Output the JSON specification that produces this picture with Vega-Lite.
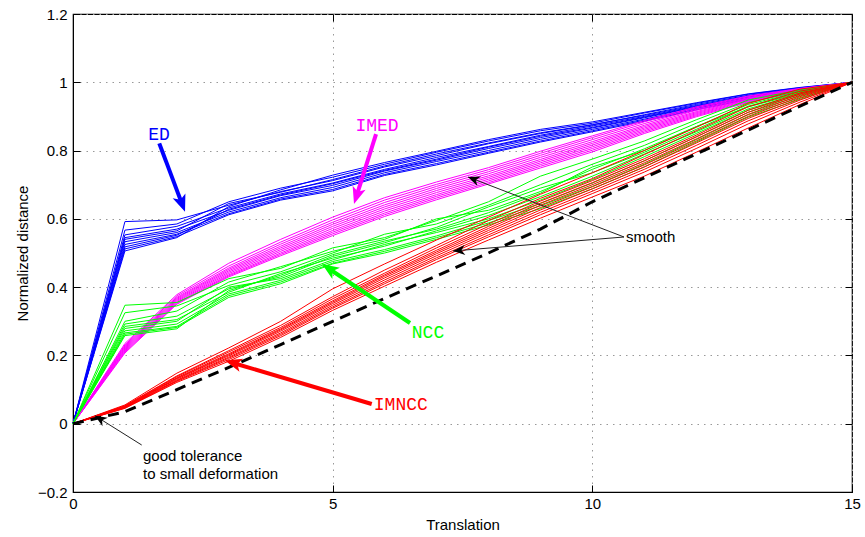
{
"$schema":"https://vega.github.io/schema/vega-lite/v6.json",
"width":779,"height":478,
"autosize":{"type":"none"},
"padding":{"left":73,"top":14,"right":13,"bottom":45},
"background":"white",
"config":{"view":{"stroke":"#000","strokeWidth":1.2},"font":"Liberation Sans"},
"resolve":{"axis":{"x":"independent","y":"independent"}},
"datasets":{
"curves":[
{"g":"ED","r":1,"x":0,"y":0},{"g":"ED","r":1,"x":1,"y":0.592},{"g":"ED","r":1,"x":2,"y":0.597},{"g":"ED","r":1,"x":3,"y":0.640},{"g":"ED","r":1,"x":4,"y":0.680},{"g":"ED","r":1,"x":5,"y":0.712},{"g":"ED","r":1,"x":6,"y":0.752},{"g":"ED","r":1,"x":7,"y":0.785},{"g":"ED","r":1,"x":8,"y":0.820},{"g":"ED","r":1,"x":9,"y":0.850},{"g":"ED","r":1,"x":10,"y":0.875},{"g":"ED","r":1,"x":11,"y":0.905},{"g":"ED","r":1,"x":12,"y":0.935},{"g":"ED","r":1,"x":13,"y":0.962},{"g":"ED","r":1,"x":14,"y":0.982},{"g":"ED","r":1,"x":15,"y":1},
{"g":"ED","r":2,"x":0,"y":0},{"g":"ED","r":2,"x":1,"y":0.567},{"g":"ED","r":2,"x":2,"y":0.585},{"g":"ED","r":2,"x":3,"y":0.650},{"g":"ED","r":2,"x":4,"y":0.690},{"g":"ED","r":2,"x":5,"y":0.722},{"g":"ED","r":2,"x":6,"y":0.760},{"g":"ED","r":2,"x":7,"y":0.795},{"g":"ED","r":2,"x":8,"y":0.828},{"g":"ED","r":2,"x":9,"y":0.858},{"g":"ED","r":2,"x":10,"y":0.880},{"g":"ED","r":2,"x":11,"y":0.910},{"g":"ED","r":2,"x":12,"y":0.938},{"g":"ED","r":2,"x":13,"y":0.965},{"g":"ED","r":2,"x":14,"y":0.984},{"g":"ED","r":2,"x":15,"y":1},
{"g":"ED","r":3,"x":0,"y":0},{"g":"ED","r":3,"x":1,"y":0.553},{"g":"ED","r":3,"x":2,"y":0.578},{"g":"ED","r":3,"x":3,"y":0.632},{"g":"ED","r":3,"x":4,"y":0.673},{"g":"ED","r":3,"x":5,"y":0.705},{"g":"ED","r":3,"x":6,"y":0.745},{"g":"ED","r":3,"x":7,"y":0.780},{"g":"ED","r":3,"x":8,"y":0.812},{"g":"ED","r":3,"x":9,"y":0.845},{"g":"ED","r":3,"x":10,"y":0.872},{"g":"ED","r":3,"x":11,"y":0.900},{"g":"ED","r":3,"x":12,"y":0.930},{"g":"ED","r":3,"x":13,"y":0.958},{"g":"ED","r":3,"x":14,"y":0.980},{"g":"ED","r":3,"x":15,"y":1},
{"g":"ED","r":4,"x":0,"y":0},{"g":"ED","r":4,"x":1,"y":0.545},{"g":"ED","r":4,"x":2,"y":0.570},{"g":"ED","r":4,"x":3,"y":0.625},{"g":"ED","r":4,"x":4,"y":0.668},{"g":"ED","r":4,"x":5,"y":0.698},{"g":"ED","r":4,"x":6,"y":0.740},{"g":"ED","r":4,"x":7,"y":0.772},{"g":"ED","r":4,"x":8,"y":0.806},{"g":"ED","r":4,"x":9,"y":0.838},{"g":"ED","r":4,"x":10,"y":0.866},{"g":"ED","r":4,"x":11,"y":0.896},{"g":"ED","r":4,"x":12,"y":0.927},{"g":"ED","r":4,"x":13,"y":0.956},{"g":"ED","r":4,"x":14,"y":0.979},{"g":"ED","r":4,"x":15,"y":1},
{"g":"ED","r":5,"x":0,"y":0},{"g":"ED","r":5,"x":1,"y":0.540},{"g":"ED","r":5,"x":2,"y":0.565},{"g":"ED","r":5,"x":3,"y":0.645},{"g":"ED","r":5,"x":4,"y":0.678},{"g":"ED","r":5,"x":5,"y":0.715},{"g":"ED","r":5,"x":6,"y":0.755},{"g":"ED","r":5,"x":7,"y":0.790},{"g":"ED","r":5,"x":8,"y":0.822},{"g":"ED","r":5,"x":9,"y":0.852},{"g":"ED","r":5,"x":10,"y":0.876},{"g":"ED","r":5,"x":11,"y":0.903},{"g":"ED","r":5,"x":12,"y":0.932},{"g":"ED","r":5,"x":13,"y":0.960},{"g":"ED","r":5,"x":14,"y":0.981},{"g":"ED","r":5,"x":15,"y":1},
{"g":"ED","r":6,"x":0,"y":0},{"g":"ED","r":6,"x":1,"y":0.533},{"g":"ED","r":6,"x":2,"y":0.560},{"g":"ED","r":6,"x":3,"y":0.620},{"g":"ED","r":6,"x":4,"y":0.662},{"g":"ED","r":6,"x":5,"y":0.692},{"g":"ED","r":6,"x":6,"y":0.735},{"g":"ED","r":6,"x":7,"y":0.768},{"g":"ED","r":6,"x":8,"y":0.800},{"g":"ED","r":6,"x":9,"y":0.833},{"g":"ED","r":6,"x":10,"y":0.862},{"g":"ED","r":6,"x":11,"y":0.892},{"g":"ED","r":6,"x":12,"y":0.924},{"g":"ED","r":6,"x":13,"y":0.953},{"g":"ED","r":6,"x":14,"y":0.977},{"g":"ED","r":6,"x":15,"y":1},
{"g":"ED","r":7,"x":0,"y":0},{"g":"ED","r":7,"x":1,"y":0.525},{"g":"ED","r":7,"x":2,"y":0.555},{"g":"ED","r":7,"x":3,"y":0.615},{"g":"ED","r":7,"x":4,"y":0.658},{"g":"ED","r":7,"x":5,"y":0.686},{"g":"ED","r":7,"x":6,"y":0.730},{"g":"ED","r":7,"x":7,"y":0.762},{"g":"ED","r":7,"x":8,"y":0.795},{"g":"ED","r":7,"x":9,"y":0.828},{"g":"ED","r":7,"x":10,"y":0.858},{"g":"ED","r":7,"x":11,"y":0.889},{"g":"ED","r":7,"x":12,"y":0.921},{"g":"ED","r":7,"x":13,"y":0.951},{"g":"ED","r":7,"x":14,"y":0.976},{"g":"ED","r":7,"x":15,"y":1},
{"g":"ED","r":8,"x":0,"y":0},{"g":"ED","r":8,"x":1,"y":0.518},{"g":"ED","r":8,"x":2,"y":0.552},{"g":"ED","r":8,"x":3,"y":0.628},{"g":"ED","r":8,"x":4,"y":0.670},{"g":"ED","r":8,"x":5,"y":0.703},{"g":"ED","r":8,"x":6,"y":0.742},{"g":"ED","r":8,"x":7,"y":0.775},{"g":"ED","r":8,"x":8,"y":0.810},{"g":"ED","r":8,"x":9,"y":0.842},{"g":"ED","r":8,"x":10,"y":0.868},{"g":"ED","r":8,"x":11,"y":0.898},{"g":"ED","r":8,"x":12,"y":0.928},{"g":"ED","r":8,"x":13,"y":0.957},{"g":"ED","r":8,"x":14,"y":0.980},{"g":"ED","r":8,"x":15,"y":1},
{"g":"ED","r":9,"x":0,"y":0},{"g":"ED","r":9,"x":1,"y":0.512},{"g":"ED","r":9,"x":2,"y":0.548},{"g":"ED","r":9,"x":3,"y":0.612},{"g":"ED","r":9,"x":4,"y":0.655},{"g":"ED","r":9,"x":5,"y":0.682},{"g":"ED","r":9,"x":6,"y":0.727},{"g":"ED","r":9,"x":7,"y":0.758},{"g":"ED","r":9,"x":8,"y":0.792},{"g":"ED","r":9,"x":9,"y":0.825},{"g":"ED","r":9,"x":10,"y":0.855},{"g":"ED","r":9,"x":11,"y":0.886},{"g":"ED","r":9,"x":12,"y":0.919},{"g":"ED","r":9,"x":13,"y":0.950},{"g":"ED","r":9,"x":14,"y":0.975},{"g":"ED","r":9,"x":15,"y":1},
{"g":"ED","r":10,"x":0,"y":0},{"g":"ED","r":10,"x":1,"y":0.506},{"g":"ED","r":10,"x":2,"y":0.545},{"g":"ED","r":10,"x":3,"y":0.636},{"g":"ED","r":10,"x":4,"y":0.685},{"g":"ED","r":10,"x":5,"y":0.728},{"g":"ED","r":10,"x":6,"y":0.765},{"g":"ED","r":10,"x":7,"y":0.798},{"g":"ED","r":10,"x":8,"y":0.832},{"g":"ED","r":10,"x":9,"y":0.862},{"g":"ED","r":10,"x":10,"y":0.884},{"g":"ED","r":10,"x":11,"y":0.912},{"g":"ED","r":10,"x":12,"y":0.940},{"g":"ED","r":10,"x":13,"y":0.966},{"g":"ED","r":10,"x":14,"y":0.985},{"g":"ED","r":10,"x":15,"y":1},
{"g":"IMED","r":1,"x":0,"y":0},{"g":"IMED","r":1,"x":1,"y":0.235},{"g":"IMED","r":1,"x":2,"y":0.378},{"g":"IMED","r":1,"x":3,"y":0.470},{"g":"IMED","r":1,"x":4,"y":0.540},{"g":"IMED","r":1,"x":5,"y":0.605},{"g":"IMED","r":1,"x":6,"y":0.662},{"g":"IMED","r":1,"x":7,"y":0.708},{"g":"IMED","r":1,"x":8,"y":0.750},{"g":"IMED","r":1,"x":9,"y":0.798},{"g":"IMED","r":1,"x":10,"y":0.843},{"g":"IMED","r":1,"x":11,"y":0.888},{"g":"IMED","r":1,"x":12,"y":0.928},{"g":"IMED","r":1,"x":13,"y":0.960},{"g":"IMED","r":1,"x":14,"y":0.982},{"g":"IMED","r":1,"x":15,"y":1},
{"g":"IMED","r":2,"x":0,"y":0},{"g":"IMED","r":2,"x":1,"y":0.231},{"g":"IMED","r":2,"x":2,"y":0.374},{"g":"IMED","r":2,"x":3,"y":0.462},{"g":"IMED","r":2,"x":4,"y":0.532},{"g":"IMED","r":2,"x":5,"y":0.597},{"g":"IMED","r":2,"x":6,"y":0.655},{"g":"IMED","r":2,"x":7,"y":0.701},{"g":"IMED","r":2,"x":8,"y":0.744},{"g":"IMED","r":2,"x":9,"y":0.792},{"g":"IMED","r":2,"x":10,"y":0.838},{"g":"IMED","r":2,"x":11,"y":0.884},{"g":"IMED","r":2,"x":12,"y":0.925},{"g":"IMED","r":2,"x":13,"y":0.958},{"g":"IMED","r":2,"x":14,"y":0.981},{"g":"IMED","r":2,"x":15,"y":1},
{"g":"IMED","r":3,"x":0,"y":0},{"g":"IMED","r":3,"x":1,"y":0.228},{"g":"IMED","r":3,"x":2,"y":0.370},{"g":"IMED","r":3,"x":3,"y":0.456},{"g":"IMED","r":3,"x":4,"y":0.526},{"g":"IMED","r":3,"x":5,"y":0.590},{"g":"IMED","r":3,"x":6,"y":0.648},{"g":"IMED","r":3,"x":7,"y":0.695},{"g":"IMED","r":3,"x":8,"y":0.738},{"g":"IMED","r":3,"x":9,"y":0.786},{"g":"IMED","r":3,"x":10,"y":0.832},{"g":"IMED","r":3,"x":11,"y":0.879},{"g":"IMED","r":3,"x":12,"y":0.921},{"g":"IMED","r":3,"x":13,"y":0.955},{"g":"IMED","r":3,"x":14,"y":0.980},{"g":"IMED","r":3,"x":15,"y":1},
{"g":"IMED","r":4,"x":0,"y":0},{"g":"IMED","r":4,"x":1,"y":0.225},{"g":"IMED","r":4,"x":2,"y":0.367},{"g":"IMED","r":4,"x":3,"y":0.452},{"g":"IMED","r":4,"x":4,"y":0.520},{"g":"IMED","r":4,"x":5,"y":0.584},{"g":"IMED","r":4,"x":6,"y":0.641},{"g":"IMED","r":4,"x":7,"y":0.689},{"g":"IMED","r":4,"x":8,"y":0.732},{"g":"IMED","r":4,"x":9,"y":0.780},{"g":"IMED","r":4,"x":10,"y":0.826},{"g":"IMED","r":4,"x":11,"y":0.874},{"g":"IMED","r":4,"x":12,"y":0.918},{"g":"IMED","r":4,"x":13,"y":0.953},{"g":"IMED","r":4,"x":14,"y":0.979},{"g":"IMED","r":4,"x":15,"y":1},
{"g":"IMED","r":5,"x":0,"y":0},{"g":"IMED","r":5,"x":1,"y":0.222},{"g":"IMED","r":5,"x":2,"y":0.364},{"g":"IMED","r":5,"x":3,"y":0.448},{"g":"IMED","r":5,"x":4,"y":0.515},{"g":"IMED","r":5,"x":5,"y":0.578},{"g":"IMED","r":5,"x":6,"y":0.635},{"g":"IMED","r":5,"x":7,"y":0.683},{"g":"IMED","r":5,"x":8,"y":0.726},{"g":"IMED","r":5,"x":9,"y":0.774},{"g":"IMED","r":5,"x":10,"y":0.821},{"g":"IMED","r":5,"x":11,"y":0.870},{"g":"IMED","r":5,"x":12,"y":0.914},{"g":"IMED","r":5,"x":13,"y":0.951},{"g":"IMED","r":5,"x":14,"y":0.978},{"g":"IMED","r":5,"x":15,"y":1},
{"g":"IMED","r":6,"x":0,"y":0},{"g":"IMED","r":6,"x":1,"y":0.219},{"g":"IMED","r":6,"x":2,"y":0.361},{"g":"IMED","r":6,"x":3,"y":0.444},{"g":"IMED","r":6,"x":4,"y":0.510},{"g":"IMED","r":6,"x":5,"y":0.572},{"g":"IMED","r":6,"x":6,"y":0.629},{"g":"IMED","r":6,"x":7,"y":0.677},{"g":"IMED","r":6,"x":8,"y":0.721},{"g":"IMED","r":6,"x":9,"y":0.769},{"g":"IMED","r":6,"x":10,"y":0.816},{"g":"IMED","r":6,"x":11,"y":0.866},{"g":"IMED","r":6,"x":12,"y":0.911},{"g":"IMED","r":6,"x":13,"y":0.949},{"g":"IMED","r":6,"x":14,"y":0.977},{"g":"IMED","r":6,"x":15,"y":1},
{"g":"IMED","r":7,"x":0,"y":0},{"g":"IMED","r":7,"x":1,"y":0.216},{"g":"IMED","r":7,"x":2,"y":0.358},{"g":"IMED","r":7,"x":3,"y":0.440},{"g":"IMED","r":7,"x":4,"y":0.505},{"g":"IMED","r":7,"x":5,"y":0.566},{"g":"IMED","r":7,"x":6,"y":0.623},{"g":"IMED","r":7,"x":7,"y":0.671},{"g":"IMED","r":7,"x":8,"y":0.716},{"g":"IMED","r":7,"x":9,"y":0.764},{"g":"IMED","r":7,"x":10,"y":0.811},{"g":"IMED","r":7,"x":11,"y":0.862},{"g":"IMED","r":7,"x":12,"y":0.908},{"g":"IMED","r":7,"x":13,"y":0.947},{"g":"IMED","r":7,"x":14,"y":0.976},{"g":"IMED","r":7,"x":15,"y":1},
{"g":"IMED","r":8,"x":0,"y":0},{"g":"IMED","r":8,"x":1,"y":0.213},{"g":"IMED","r":8,"x":2,"y":0.355},{"g":"IMED","r":8,"x":3,"y":0.436},{"g":"IMED","r":8,"x":4,"y":0.500},{"g":"IMED","r":8,"x":5,"y":0.561},{"g":"IMED","r":8,"x":6,"y":0.617},{"g":"IMED","r":8,"x":7,"y":0.666},{"g":"IMED","r":8,"x":8,"y":0.711},{"g":"IMED","r":8,"x":9,"y":0.759},{"g":"IMED","r":8,"x":10,"y":0.806},{"g":"IMED","r":8,"x":11,"y":0.858},{"g":"IMED","r":8,"x":12,"y":0.905},{"g":"IMED","r":8,"x":13,"y":0.945},{"g":"IMED","r":8,"x":14,"y":0.975},{"g":"IMED","r":8,"x":15,"y":1},
{"g":"IMED","r":9,"x":0,"y":0},{"g":"IMED","r":9,"x":1,"y":0.210},{"g":"IMED","r":9,"x":2,"y":0.352},{"g":"IMED","r":9,"x":3,"y":0.433},{"g":"IMED","r":9,"x":4,"y":0.496},{"g":"IMED","r":9,"x":5,"y":0.556},{"g":"IMED","r":9,"x":6,"y":0.612},{"g":"IMED","r":9,"x":7,"y":0.661},{"g":"IMED","r":9,"x":8,"y":0.706},{"g":"IMED","r":9,"x":9,"y":0.754},{"g":"IMED","r":9,"x":10,"y":0.801},{"g":"IMED","r":9,"x":11,"y":0.854},{"g":"IMED","r":9,"x":12,"y":0.902},{"g":"IMED","r":9,"x":13,"y":0.943},{"g":"IMED","r":9,"x":14,"y":0.974},{"g":"IMED","r":9,"x":15,"y":1},
{"g":"IMED","r":10,"x":0,"y":0},{"g":"IMED","r":10,"x":1,"y":0.207},{"g":"IMED","r":10,"x":2,"y":0.350},{"g":"IMED","r":10,"x":3,"y":0.430},{"g":"IMED","r":10,"x":4,"y":0.492},{"g":"IMED","r":10,"x":5,"y":0.551},{"g":"IMED","r":10,"x":6,"y":0.607},{"g":"IMED","r":10,"x":7,"y":0.656},{"g":"IMED","r":10,"x":8,"y":0.702},{"g":"IMED","r":10,"x":9,"y":0.749},{"g":"IMED","r":10,"x":10,"y":0.796},{"g":"IMED","r":10,"x":11,"y":0.850},{"g":"IMED","r":10,"x":12,"y":0.899},{"g":"IMED","r":10,"x":13,"y":0.941},{"g":"IMED","r":10,"x":14,"y":0.973},{"g":"IMED","r":10,"x":15,"y":1},
{"g":"NCC","r":1,"x":0,"y":0},{"g":"NCC","r":1,"x":1,"y":0.347},{"g":"NCC","r":1,"x":2,"y":0.355},{"g":"NCC","r":1,"x":3,"y":0.425},{"g":"NCC","r":1,"x":4,"y":0.455},{"g":"NCC","r":1,"x":5,"y":0.515},{"g":"NCC","r":1,"x":6,"y":0.545},{"g":"NCC","r":1,"x":7,"y":0.595},{"g":"NCC","r":1,"x":8,"y":0.650},{"g":"NCC","r":1,"x":9,"y":0.725},{"g":"NCC","r":1,"x":10,"y":0.775},{"g":"NCC","r":1,"x":11,"y":0.828},{"g":"NCC","r":1,"x":12,"y":0.890},{"g":"NCC","r":1,"x":13,"y":0.948},{"g":"NCC","r":1,"x":14,"y":0.978},{"g":"NCC","r":1,"x":15,"y":1},
{"g":"NCC","r":2,"x":0,"y":0},{"g":"NCC","r":2,"x":1,"y":0.325},{"g":"NCC","r":2,"x":2,"y":0.345},{"g":"NCC","r":2,"x":3,"y":0.405},{"g":"NCC","r":2,"x":4,"y":0.445},{"g":"NCC","r":2,"x":5,"y":0.500},{"g":"NCC","r":2,"x":6,"y":0.555},{"g":"NCC","r":2,"x":7,"y":0.585},{"g":"NCC","r":2,"x":8,"y":0.640},{"g":"NCC","r":2,"x":9,"y":0.700},{"g":"NCC","r":2,"x":10,"y":0.760},{"g":"NCC","r":2,"x":11,"y":0.815},{"g":"NCC","r":2,"x":12,"y":0.880},{"g":"NCC","r":2,"x":13,"y":0.940},{"g":"NCC","r":2,"x":14,"y":0.975},{"g":"NCC","r":2,"x":15,"y":1},
{"g":"NCC","r":3,"x":0,"y":0},{"g":"NCC","r":3,"x":1,"y":0.300},{"g":"NCC","r":3,"x":2,"y":0.330},{"g":"NCC","r":3,"x":3,"y":0.415},{"g":"NCC","r":3,"x":4,"y":0.460},{"g":"NCC","r":3,"x":5,"y":0.505},{"g":"NCC","r":3,"x":6,"y":0.540},{"g":"NCC","r":3,"x":7,"y":0.600},{"g":"NCC","r":3,"x":8,"y":0.625},{"g":"NCC","r":3,"x":9,"y":0.680},{"g":"NCC","r":3,"x":10,"y":0.745},{"g":"NCC","r":3,"x":11,"y":0.805},{"g":"NCC","r":3,"x":12,"y":0.870},{"g":"NCC","r":3,"x":13,"y":0.935},{"g":"NCC","r":3,"x":14,"y":0.972},{"g":"NCC","r":3,"x":15,"y":1},
{"g":"NCC","r":4,"x":0,"y":0},{"g":"NCC","r":4,"x":1,"y":0.292},{"g":"NCC","r":4,"x":2,"y":0.315},{"g":"NCC","r":4,"x":3,"y":0.395},{"g":"NCC","r":4,"x":4,"y":0.430},{"g":"NCC","r":4,"x":5,"y":0.490},{"g":"NCC","r":4,"x":6,"y":0.530},{"g":"NCC","r":4,"x":7,"y":0.575},{"g":"NCC","r":4,"x":8,"y":0.635},{"g":"NCC","r":4,"x":9,"y":0.690},{"g":"NCC","r":4,"x":10,"y":0.735},{"g":"NCC","r":4,"x":11,"y":0.795},{"g":"NCC","r":4,"x":12,"y":0.862},{"g":"NCC","r":4,"x":13,"y":0.930},{"g":"NCC","r":4,"x":14,"y":0.970},{"g":"NCC","r":4,"x":15,"y":1},
{"g":"NCC","r":5,"x":0,"y":0},{"g":"NCC","r":5,"x":1,"y":0.285},{"g":"NCC","r":5,"x":2,"y":0.305},{"g":"NCC","r":5,"x":3,"y":0.385},{"g":"NCC","r":5,"x":4,"y":0.440},{"g":"NCC","r":5,"x":5,"y":0.485},{"g":"NCC","r":5,"x":6,"y":0.520},{"g":"NCC","r":5,"x":7,"y":0.565},{"g":"NCC","r":5,"x":8,"y":0.610},{"g":"NCC","r":5,"x":9,"y":0.665},{"g":"NCC","r":5,"x":10,"y":0.725},{"g":"NCC","r":5,"x":11,"y":0.790},{"g":"NCC","r":5,"x":12,"y":0.855},{"g":"NCC","r":5,"x":13,"y":0.922},{"g":"NCC","r":5,"x":14,"y":0.966},{"g":"NCC","r":5,"x":15,"y":1},
{"g":"NCC","r":6,"x":0,"y":0},{"g":"NCC","r":6,"x":1,"y":0.279},{"g":"NCC","r":6,"x":2,"y":0.300},{"g":"NCC","r":6,"x":3,"y":0.400},{"g":"NCC","r":6,"x":4,"y":0.425},{"g":"NCC","r":6,"x":5,"y":0.480},{"g":"NCC","r":6,"x":6,"y":0.525},{"g":"NCC","r":6,"x":7,"y":0.560},{"g":"NCC","r":6,"x":8,"y":0.600},{"g":"NCC","r":6,"x":9,"y":0.655},{"g":"NCC","r":6,"x":10,"y":0.715},{"g":"NCC","r":6,"x":11,"y":0.782},{"g":"NCC","r":6,"x":12,"y":0.850},{"g":"NCC","r":6,"x":13,"y":0.918},{"g":"NCC","r":6,"x":14,"y":0.964},{"g":"NCC","r":6,"x":15,"y":1},
{"g":"NCC","r":7,"x":0,"y":0},{"g":"NCC","r":7,"x":1,"y":0.272},{"g":"NCC","r":7,"x":2,"y":0.292},{"g":"NCC","r":7,"x":3,"y":0.380},{"g":"NCC","r":7,"x":4,"y":0.420},{"g":"NCC","r":7,"x":5,"y":0.475},{"g":"NCC","r":7,"x":6,"y":0.510},{"g":"NCC","r":7,"x":7,"y":0.550},{"g":"NCC","r":7,"x":8,"y":0.595},{"g":"NCC","r":7,"x":9,"y":0.645},{"g":"NCC","r":7,"x":10,"y":0.705},{"g":"NCC","r":7,"x":11,"y":0.770},{"g":"NCC","r":7,"x":12,"y":0.840},{"g":"NCC","r":7,"x":13,"y":0.912},{"g":"NCC","r":7,"x":14,"y":0.960},{"g":"NCC","r":7,"x":15,"y":1},
{"g":"NCC","r":8,"x":0,"y":0},{"g":"NCC","r":8,"x":1,"y":0.266},{"g":"NCC","r":8,"x":2,"y":0.285},{"g":"NCC","r":8,"x":3,"y":0.375},{"g":"NCC","r":8,"x":4,"y":0.415},{"g":"NCC","r":8,"x":5,"y":0.470},{"g":"NCC","r":8,"x":6,"y":0.505},{"g":"NCC","r":8,"x":7,"y":0.545},{"g":"NCC","r":8,"x":8,"y":0.588},{"g":"NCC","r":8,"x":9,"y":0.638},{"g":"NCC","r":8,"x":10,"y":0.695},{"g":"NCC","r":8,"x":11,"y":0.760},{"g":"NCC","r":8,"x":12,"y":0.832},{"g":"NCC","r":8,"x":13,"y":0.905},{"g":"NCC","r":8,"x":14,"y":0.955},{"g":"NCC","r":8,"x":15,"y":1},
{"g":"NCC","r":9,"x":0,"y":0},{"g":"NCC","r":9,"x":1,"y":0.262},{"g":"NCC","r":9,"x":2,"y":0.282},{"g":"NCC","r":9,"x":3,"y":0.370},{"g":"NCC","r":9,"x":4,"y":0.410},{"g":"NCC","r":9,"x":5,"y":0.468},{"g":"NCC","r":9,"x":6,"y":0.500},{"g":"NCC","r":9,"x":7,"y":0.540},{"g":"NCC","r":9,"x":8,"y":0.582},{"g":"NCC","r":9,"x":9,"y":0.630},{"g":"NCC","r":9,"x":10,"y":0.688},{"g":"NCC","r":9,"x":11,"y":0.752},{"g":"NCC","r":9,"x":12,"y":0.825},{"g":"NCC","r":9,"x":13,"y":0.898},{"g":"NCC","r":9,"x":14,"y":0.950},{"g":"NCC","r":9,"x":15,"y":1},
{"g":"NCC","r":10,"x":0,"y":0},{"g":"NCC","r":10,"x":1,"y":0.258},{"g":"NCC","r":10,"x":2,"y":0.278},{"g":"NCC","r":10,"x":3,"y":0.390},{"g":"NCC","r":10,"x":4,"y":0.435},{"g":"NCC","r":10,"x":5,"y":0.495},{"g":"NCC","r":10,"x":6,"y":0.535},{"g":"NCC","r":10,"x":7,"y":0.570},{"g":"NCC","r":10,"x":8,"y":0.618},{"g":"NCC","r":10,"x":9,"y":0.675},{"g":"NCC","r":10,"x":10,"y":0.752},{"g":"NCC","r":10,"x":11,"y":0.800},{"g":"NCC","r":10,"x":12,"y":0.870},{"g":"NCC","r":10,"x":13,"y":0.928},{"g":"NCC","r":10,"x":14,"y":0.968},{"g":"NCC","r":10,"x":15,"y":1},
{"g":"IMNCC","r":1,"x":0,"y":0},{"g":"IMNCC","r":1,"x":1,"y":0.055},{"g":"IMNCC","r":1,"x":2,"y":0.148},{"g":"IMNCC","r":1,"x":3,"y":0.222},{"g":"IMNCC","r":1,"x":4,"y":0.300},{"g":"IMNCC","r":1,"x":5,"y":0.395},{"g":"IMNCC","r":1,"x":6,"y":0.468},{"g":"IMNCC","r":1,"x":7,"y":0.538},{"g":"IMNCC","r":1,"x":8,"y":0.605},{"g":"IMNCC","r":1,"x":9,"y":0.672},{"g":"IMNCC","r":1,"x":10,"y":0.735},{"g":"IMNCC","r":1,"x":11,"y":0.800},{"g":"IMNCC","r":1,"x":12,"y":0.868},{"g":"IMNCC","r":1,"x":13,"y":0.938},{"g":"IMNCC","r":1,"x":14,"y":0.980},{"g":"IMNCC","r":1,"x":15,"y":1},
{"g":"IMNCC","r":2,"x":0,"y":0},{"g":"IMNCC","r":2,"x":1,"y":0.053},{"g":"IMNCC","r":2,"x":2,"y":0.140},{"g":"IMNCC","r":2,"x":3,"y":0.214},{"g":"IMNCC","r":2,"x":4,"y":0.288},{"g":"IMNCC","r":2,"x":5,"y":0.372},{"g":"IMNCC","r":2,"x":6,"y":0.450},{"g":"IMNCC","r":2,"x":7,"y":0.522},{"g":"IMNCC","r":2,"x":8,"y":0.595},{"g":"IMNCC","r":2,"x":9,"y":0.660},{"g":"IMNCC","r":2,"x":10,"y":0.718},{"g":"IMNCC","r":2,"x":11,"y":0.788},{"g":"IMNCC","r":2,"x":12,"y":0.858},{"g":"IMNCC","r":2,"x":13,"y":0.928},{"g":"IMNCC","r":2,"x":14,"y":0.974},{"g":"IMNCC","r":2,"x":15,"y":1},
{"g":"IMNCC","r":3,"x":0,"y":0},{"g":"IMNCC","r":3,"x":1,"y":0.052},{"g":"IMNCC","r":3,"x":2,"y":0.138},{"g":"IMNCC","r":3,"x":3,"y":0.210},{"g":"IMNCC","r":3,"x":4,"y":0.282},{"g":"IMNCC","r":3,"x":5,"y":0.366},{"g":"IMNCC","r":3,"x":6,"y":0.441},{"g":"IMNCC","r":3,"x":7,"y":0.515},{"g":"IMNCC","r":3,"x":8,"y":0.585},{"g":"IMNCC","r":3,"x":9,"y":0.652},{"g":"IMNCC","r":3,"x":10,"y":0.712},{"g":"IMNCC","r":3,"x":11,"y":0.776},{"g":"IMNCC","r":3,"x":12,"y":0.845},{"g":"IMNCC","r":3,"x":13,"y":0.918},{"g":"IMNCC","r":3,"x":14,"y":0.969},{"g":"IMNCC","r":3,"x":15,"y":1},
{"g":"IMNCC","r":4,"x":0,"y":0},{"g":"IMNCC","r":4,"x":1,"y":0.051},{"g":"IMNCC","r":4,"x":2,"y":0.135},{"g":"IMNCC","r":4,"x":3,"y":0.205},{"g":"IMNCC","r":4,"x":4,"y":0.278},{"g":"IMNCC","r":4,"x":5,"y":0.360},{"g":"IMNCC","r":4,"x":6,"y":0.436},{"g":"IMNCC","r":4,"x":7,"y":0.508},{"g":"IMNCC","r":4,"x":8,"y":0.578},{"g":"IMNCC","r":4,"x":9,"y":0.646},{"g":"IMNCC","r":4,"x":10,"y":0.706},{"g":"IMNCC","r":4,"x":11,"y":0.770},{"g":"IMNCC","r":4,"x":12,"y":0.840},{"g":"IMNCC","r":4,"x":13,"y":0.912},{"g":"IMNCC","r":4,"x":14,"y":0.966},{"g":"IMNCC","r":4,"x":15,"y":1},
{"g":"IMNCC","r":5,"x":0,"y":0},{"g":"IMNCC","r":5,"x":1,"y":0.050},{"g":"IMNCC","r":5,"x":2,"y":0.133},{"g":"IMNCC","r":5,"x":3,"y":0.202},{"g":"IMNCC","r":5,"x":4,"y":0.275},{"g":"IMNCC","r":5,"x":5,"y":0.356},{"g":"IMNCC","r":5,"x":6,"y":0.432},{"g":"IMNCC","r":5,"x":7,"y":0.503},{"g":"IMNCC","r":5,"x":8,"y":0.572},{"g":"IMNCC","r":5,"x":9,"y":0.640},{"g":"IMNCC","r":5,"x":10,"y":0.700},{"g":"IMNCC","r":5,"x":11,"y":0.764},{"g":"IMNCC","r":5,"x":12,"y":0.834},{"g":"IMNCC","r":5,"x":13,"y":0.906},{"g":"IMNCC","r":5,"x":14,"y":0.962},{"g":"IMNCC","r":5,"x":15,"y":1},
{"g":"IMNCC","r":6,"x":0,"y":0},{"g":"IMNCC","r":6,"x":1,"y":0.049},{"g":"IMNCC","r":6,"x":2,"y":0.131},{"g":"IMNCC","r":6,"x":3,"y":0.199},{"g":"IMNCC","r":6,"x":4,"y":0.271},{"g":"IMNCC","r":6,"x":5,"y":0.352},{"g":"IMNCC","r":6,"x":6,"y":0.427},{"g":"IMNCC","r":6,"x":7,"y":0.498},{"g":"IMNCC","r":6,"x":8,"y":0.566},{"g":"IMNCC","r":6,"x":9,"y":0.633},{"g":"IMNCC","r":6,"x":10,"y":0.694},{"g":"IMNCC","r":6,"x":11,"y":0.758},{"g":"IMNCC","r":6,"x":12,"y":0.828},{"g":"IMNCC","r":6,"x":13,"y":0.900},{"g":"IMNCC","r":6,"x":14,"y":0.958},{"g":"IMNCC","r":6,"x":15,"y":1},
{"g":"IMNCC","r":7,"x":0,"y":0},{"g":"IMNCC","r":7,"x":1,"y":0.048},{"g":"IMNCC","r":7,"x":2,"y":0.128},{"g":"IMNCC","r":7,"x":3,"y":0.195},{"g":"IMNCC","r":7,"x":4,"y":0.266},{"g":"IMNCC","r":7,"x":5,"y":0.347},{"g":"IMNCC","r":7,"x":6,"y":0.421},{"g":"IMNCC","r":7,"x":7,"y":0.492},{"g":"IMNCC","r":7,"x":8,"y":0.560},{"g":"IMNCC","r":7,"x":9,"y":0.626},{"g":"IMNCC","r":7,"x":10,"y":0.688},{"g":"IMNCC","r":7,"x":11,"y":0.752},{"g":"IMNCC","r":7,"x":12,"y":0.822},{"g":"IMNCC","r":7,"x":13,"y":0.894},{"g":"IMNCC","r":7,"x":14,"y":0.953},{"g":"IMNCC","r":7,"x":15,"y":1},
{"g":"IMNCC","r":8,"x":0,"y":0},{"g":"IMNCC","r":8,"x":1,"y":0.047},{"g":"IMNCC","r":8,"x":2,"y":0.126},{"g":"IMNCC","r":8,"x":3,"y":0.192},{"g":"IMNCC","r":8,"x":4,"y":0.262},{"g":"IMNCC","r":8,"x":5,"y":0.342},{"g":"IMNCC","r":8,"x":6,"y":0.415},{"g":"IMNCC","r":8,"x":7,"y":0.486},{"g":"IMNCC","r":8,"x":8,"y":0.553},{"g":"IMNCC","r":8,"x":9,"y":0.619},{"g":"IMNCC","r":8,"x":10,"y":0.681},{"g":"IMNCC","r":8,"x":11,"y":0.745},{"g":"IMNCC","r":8,"x":12,"y":0.815},{"g":"IMNCC","r":8,"x":13,"y":0.887},{"g":"IMNCC","r":8,"x":14,"y":0.948},{"g":"IMNCC","r":8,"x":15,"y":1},
{"g":"IMNCC","r":9,"x":0,"y":0},{"g":"IMNCC","r":9,"x":1,"y":0.046},{"g":"IMNCC","r":9,"x":2,"y":0.124},{"g":"IMNCC","r":9,"x":3,"y":0.188},{"g":"IMNCC","r":9,"x":4,"y":0.258},{"g":"IMNCC","r":9,"x":5,"y":0.338},{"g":"IMNCC","r":9,"x":6,"y":0.410},{"g":"IMNCC","r":9,"x":7,"y":0.481},{"g":"IMNCC","r":9,"x":8,"y":0.547},{"g":"IMNCC","r":9,"x":9,"y":0.612},{"g":"IMNCC","r":9,"x":10,"y":0.674},{"g":"IMNCC","r":9,"x":11,"y":0.737},{"g":"IMNCC","r":9,"x":12,"y":0.806},{"g":"IMNCC","r":9,"x":13,"y":0.878},{"g":"IMNCC","r":9,"x":14,"y":0.942},{"g":"IMNCC","r":9,"x":15,"y":1},
{"g":"IMNCC","r":10,"x":0,"y":0},{"g":"IMNCC","r":10,"x":1,"y":0.045},{"g":"IMNCC","r":10,"x":2,"y":0.121},{"g":"IMNCC","r":10,"x":3,"y":0.183},{"g":"IMNCC","r":10,"x":4,"y":0.253},{"g":"IMNCC","r":10,"x":5,"y":0.332},{"g":"IMNCC","r":10,"x":6,"y":0.403},{"g":"IMNCC","r":10,"x":7,"y":0.473},{"g":"IMNCC","r":10,"x":8,"y":0.538},{"g":"IMNCC","r":10,"x":9,"y":0.602},{"g":"IMNCC","r":10,"x":10,"y":0.664},{"g":"IMNCC","r":10,"x":11,"y":0.725},{"g":"IMNCC","r":10,"x":12,"y":0.795},{"g":"IMNCC","r":10,"x":13,"y":0.866},{"g":"IMNCC","r":10,"x":14,"y":0.935},{"g":"IMNCC","r":10,"x":15,"y":1}
],
"base":[
{"x":0,"y":0},{"x":1,"y":0.035},{"x":2,"y":0.100},{"x":3,"y":0.165},{"x":4,"y":0.232},{"x":5,"y":0.300},{"x":6,"y":0.367},{"x":7,"y":0.433},{"x":8,"y":0.500},{"x":9,"y":0.570},{"x":10,"y":0.650},{"x":11,"y":0.720},{"x":12,"y":0.790},{"x":13,"y":0.860},{"x":14,"y":0.930},{"x":15,"y":1}
],
"pointers":[
{"g":"ED","x":1.661,"y":0.821,"x2":2.074,"y2":0.654},
{"g":"IMED","x":5.835,"y":0.848,"x2":5.480,"y2":0.677},
{"g":"NCC","x":6.489,"y":0.295,"x2":4.987,"y2":0.448},
{"g":"IMNCC","x":5.752,"y":0.0577,"x2":3.150,"y2":0.175}
],
"callouts":[
{"g":"note","x":10.610,"y":0.5469,"x2":7.606,"y2":0.7226},
{"g":"note","x":10.610,"y":0.5469,"x2":7.317,"y2":0.5059},
{"g":"note","x":1.323,"y":-0.0624,"x2":0.4236,"y2":0.0234}
],
"tips":[
{"a":"ED","g":"ED","x":2.157,"y":0.621},
{"a":"IMED","g":"IMED","x":5.411,"y":0.6435},
{"a":"NCC","g":"NCC","x":4.795,"y":0.468},
{"a":"IMNCC","g":"IMNCC","x":2.927,"y":0.185},
{"a":"smooth1","g":"note","x":7.606,"y":0.7226},
{"a":"smooth2","g":"note","x":7.317,"y":0.5059},
{"a":"tol","g":"note","x":0.4236,"y":0.0234}
],
"names":[
{"t":"ED","g":"ED","x":1.656,"y":0.845},
{"t":"IMED","g":"IMED","x":5.854,"y":0.8717},
{"t":"NCC","g":"NCC","x":6.836,"y":0.2657},
{"t":"IMNCC","g":"IMNCC","x":6.312,"y":0.0548}
],
"notes":[
{"t":"smooth","x":10.649,"y":0.5483},
{"t":"good tolerance","x":1.348,"y":-0.0931},
{"t":"to small deformation","x":1.348,"y":-0.1459}
]
},
"encoding":{
"x":{"field":"x","type":"quantitative","scale":{"domain":[0,15],"nice":false,"zero":false},"axis":null},
"y":{"field":"y","type":"quantitative","scale":{"domain":[-0.2,1.2],"nice":false,"zero":false},"axis":null}
},
"layer":[
{"data":{"name":"curves"},"mark":{"type":"line","strokeWidth":1},
 "encoding":{
 "x":{"field":"x","type":"quantitative","scale":{"domain":[0,15],"nice":false,"zero":false},
  "axis":{"values":[0,5,10,15],"title":"Translation","grid":true,"gridDash":[1.5,5],"gridColor":"#999","gridWidth":1,"tickSize":-7,"tickColor":"#000","domainColor":"#000","labelPadding":11,"labelFontSize":15,"labelColor":"#000","labelFlush":false,"labelOverlap":false,"titleFontSize":15,"titleFontWeight":"normal","titleColor":"#000","titleY":32,"titleBaseline":"middle"}},
 "y":{"field":"y","type":"quantitative","scale":{"domain":[-0.2,1.2],"nice":false,"zero":false},
  "axis":{"values":[-0.2,0,0.2,0.4,0.6,0.8,1,1.2],"format":"~g","title":"Normalized distance","grid":true,"gridDash":[1.5,5],"gridColor":"#999","gridWidth":1,"tickSize":-7,"tickColor":"#000","domainColor":"#000","labelPadding":13,"labelFontSize":15,"labelColor":"#000","labelFlush":false,"labelOverlap":false,"titleFontSize":15,"titleFontWeight":"normal","titleColor":"#000","titleX":-51,"titleBaseline":"middle"}},
 "color":{"field":"g","type":"nominal","scale":{"domain":["ED","IMED","NCC","IMNCC","note"],"range":["#0000ff","#ff00ff","#00ff00","#ff0000","#000000"]},"legend":null},"detail":{"field":"r","type":"nominal"}}},
{"data":{"name":"base"},"mark":{"type":"line","color":"#000","strokeWidth":3,"strokeDash":[11,7]},
 "encoding":{
 "x":{"field":"x","type":"quantitative","axis":{"orient":"top","values":[0,5,10,15],"labels":false,"grid":false,"domain":false,"title":null,"tickSize":-7,"tickColor":"#000"}},
 "y":{"field":"y","type":"quantitative","axis":{"orient":"right","values":[-0.2,0,0.2,0.4,0.6,0.8,1,1.2],"labels":false,"grid":false,"domain":false,"title":null,"tickSize":-7,"tickColor":"#000"}}}},
{"data":{"name":"pointers"},"mark":{"type":"rule","strokeWidth":4,"strokeCap":"butt"},
 "encoding":{"x2":{"field":"x2"},"y2":{"field":"y2"},"color":{"field":"g","type":"nominal","legend":null}}},
{"data":{"name":"callouts"},"mark":{"type":"rule","strokeWidth":1,"color":"#222"},
 "encoding":{"x2":{"field":"x2"},"y2":{"field":"y2"}}},
{"data":{"name":"tips"},"transform":[{"filter":"datum.a == 'ED'"}],"mark":{"type":"point","shape":"M0,0L-0.4,1L0,0.75L0.4,1Z","filled":true,"opacity":1,"size":1156,"angle":159.4},"encoding":{"color":{"field":"g","type":"nominal","legend":null}}},
{"data":{"name":"tips"},"transform":[{"filter":"datum.a == 'IMED'"}],"mark":{"type":"point","shape":"M0,0L-0.4,1L0,0.75L0.4,1Z","filled":true,"opacity":1,"size":1156,"angle":197.5},"encoding":{"color":{"field":"g","type":"nominal","legend":null}}},
{"data":{"name":"tips"},"transform":[{"filter":"datum.a == 'NCC'"}],"mark":{"type":"point","shape":"M0,0L-0.4,1L0,0.75L0.4,1Z","filled":true,"opacity":1,"size":1156,"angle":303.9},"encoding":{"color":{"field":"g","type":"nominal","legend":null}}},
{"data":{"name":"tips"},"transform":[{"filter":"datum.a == 'IMNCC'"}],"mark":{"type":"point","shape":"M0,0L-0.4,1L0,0.75L0.4,1Z","filled":true,"opacity":1,"size":1156,"angle":286.1},"encoding":{"color":{"field":"g","type":"nominal","legend":null}}},
{"data":{"name":"tips"},"transform":[{"filter":"datum.a == 'smooth1'"}],"mark":{"type":"point","shape":"M0,0L-0.42,1L0,0.7L0.42,1Z","filled":true,"opacity":1,"size":576,"angle":291.1,"color":"#000"},"encoding":{}},
{"data":{"name":"tips"},"transform":[{"filter":"datum.a == 'smooth2'"}],"mark":{"type":"point","shape":"M0,0L-0.42,1L0,0.7L0.42,1Z","filled":true,"opacity":1,"size":576,"angle":265.3,"color":"#000"},"encoding":{}},
{"data":{"name":"tips"},"transform":[{"filter":"datum.a == 'tol'"}],"mark":{"type":"point","shape":"M0,0L-0.42,1L0,0.7L0.42,1Z","filled":true,"opacity":1,"size":576,"angle":302.1,"color":"#000"},"encoding":{}},
{"data":{"name":"names"},"mark":{"type":"text","font":"Liberation Mono","fontSize":18,"align":"center","baseline":"middle"},
 "encoding":{"text":{"field":"t"},"color":{"field":"g","type":"nominal","legend":null}}},
{"data":{"name":"notes"},"mark":{"type":"text","font":"Liberation Sans","fontSize":15,"align":"left","baseline":"middle","color":"#000"},
 "encoding":{"text":{"field":"t"}}}
]
}
